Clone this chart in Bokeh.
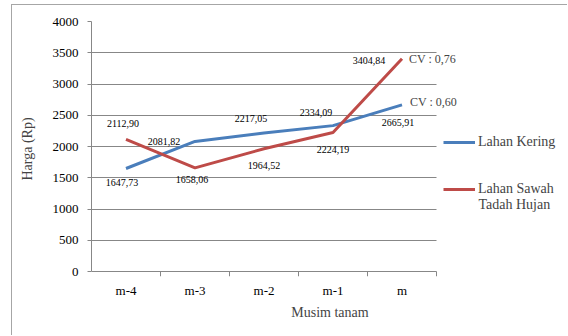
from bokeh.plotting import figure
from bokeh.models import (ColumnDataSource, FixedTicker, LabelSet, Label, Legend,
                          LegendItem, Range1d)
from bokeh.embed import file_html
from bokeh.resources import INLINE
import numpy as np

categories = ["m-4", "m-3", "m-2", "m-1", "m"]
lahan_kering = [1647.73, 2081.82, 2217.05, 2334.09, 2665.91]
lahan_sawah = [2112.90, 1658.06, 1964.52, 2224.19, 3404.84]
cv_kering = "CV : 0,60"
cv_sawah = "CV : 0,76"
y_ticks = [0, 500, 1000, 1500, 2000, 2500, 3000, 3500, 4000]

FONT = "Liberation Serif"
BLUE = "#4a7ebb"
RED = "#be4b48"
GRID = "#878787"

n = len(categories)
x = np.arange(n) + 0.5
x_end = n * (568 - 91) / 345.0      # frame reaches the right edge, plot area stops at n
TICK_PX = 5
y_pad = TICK_PX * 4000 / 250.0       # room below 0 for the category tick marks

p = figure(width=556, height=331, output_backend="svg", toolbar_location=None,
           x_range=Range1d(0, x_end), y_range=Range1d(-y_pad, 4000),
           min_border_left=79, min_border_right=0, min_border_top=16,
           min_border_bottom=60, margin=(4, 0, 0, 11),
           styles={"border-left": "1px solid #a6a6a6", "border-top": "1px solid #a6a6a6"})
p.outline_line_color = None
p.background_fill_color = "white"
p.border_fill_color = "white"

# x axis: only the category names (axis line = grid line at 0)
p.xaxis.ticker = FixedTicker(ticks=list(x))
p.xaxis.major_label_overrides = {float(v): c for v, c in zip(x, categories)}
p.xaxis.major_tick_line_color = None
p.xaxis.major_tick_out = 0
p.xaxis.major_tick_in = 0
p.xaxis.minor_tick_line_color = None
p.xaxis.axis_line_color = None
p.xaxis.major_label_standoff = 6
p.xaxis.major_label_text_font = FONT
p.xaxis.major_label_text_font_size = "13px"
p.xaxis.major_label_text_color = "black"
p.xaxis.axis_label = "Musim tanam"
p.xaxis.axis_label_text_font = FONT
p.xaxis.axis_label_text_font_style = "normal"
p.xaxis.axis_label_text_font_size = "14px"
p.xaxis.axis_label_standoff = 4

# tick marks between categories, below the zero line
p.xgrid.ticker = FixedTicker(ticks=list(range(n + 1)))
p.xgrid.cross_bounds = (-y_pad, 0)
p.xgrid.grid_line_color = GRID
p.xgrid.grid_line_width = 1

p.yaxis.ticker = FixedTicker(ticks=y_ticks)
p.yaxis.bounds = (0, 4000)
p.yaxis.minor_tick_line_color = None
p.yaxis.major_tick_line_color = GRID
p.yaxis.major_tick_out = 4
p.yaxis.major_tick_in = 0
p.yaxis.axis_line_color = GRID
p.yaxis.major_label_standoff = 9
p.yaxis.major_label_text_font = FONT
p.yaxis.major_label_text_font_size = "13px"
p.yaxis.major_label_text_color = "black"
p.yaxis.axis_label = "Harga (Rp)"
p.yaxis.axis_label_text_font = FONT
p.yaxis.axis_label_text_font_style = "normal"
p.yaxis.axis_label_text_font_size = "14px"
p.yaxis.axis_label_standoff = 15

p.ygrid.ticker = FixedTicker(ticks=y_ticks)
p.ygrid.grid_line_color = GRID
p.ygrid.grid_line_width = 1
p.ygrid.cross_bounds = (0, n)

src_k = ColumnDataSource(dict(x=x, y=lahan_kering,
                              t=[f"{v:.2f}".replace(".", ",") for v in lahan_kering],
                              dx=[-4, -31, -13, -17, -4], dy=[-14, 0, 14, 13, -18]))
src_s = ColumnDataSource(dict(x=x, y=lahan_sawah,
                              t=[f"{v:.2f}".replace(".", ",") for v in lahan_sawah],
                              dx=[-3, -3, 0, 0, -33], dy=[16, -12, -17, -17, -2]))

r1 = p.line("x", "y", source=src_k, line_color=BLUE, line_width=3)
r2 = p.line("x", "y", source=src_s, line_color=RED, line_width=3)

for src in (src_k, src_s):
    p.add_layout(LabelSet(x="x", y="y", text="t", source=src, x_offset="dx", y_offset="dy",
                          text_align="center", text_baseline="middle",
                          text_font=FONT, text_font_size="10px", text_color="black"))

p.add_layout(Label(x=x[-1], y=lahan_sawah[-1], text=cv_sawah, x_offset=7, y_offset=0,
                   text_baseline="middle", text_font=FONT, text_font_size="12px"))
p.add_layout(Label(x=x[-1], y=lahan_kering[-1], text=cv_kering, x_offset=8, y_offset=3,
                   text_baseline="middle", text_font=FONT, text_font_size="12px"))

legend = Legend(items=[LegendItem(label="Lahan Kering", renderers=[r1]),
                       LegendItem(label="Lahan Sawah", renderers=[r2])],
                location=(352, 79), orientation="vertical",
                border_line_color=None, background_fill_alpha=0,
                padding=0, margin=0, spacing=31, glyph_width=32, glyph_height=14,
                label_standoff=3, label_text_font=FONT, label_text_font_size="14px",
                label_height=14)
p.add_layout(legend)
p.add_layout(Label(x=387, y=276 - 204, x_units="screen", y_units="screen",
                   text="Tadah Hujan", text_baseline="middle",
                   text_font=FONT, text_font_size="14px"))

open("out.html", "w").write(file_html(p, INLINE))
